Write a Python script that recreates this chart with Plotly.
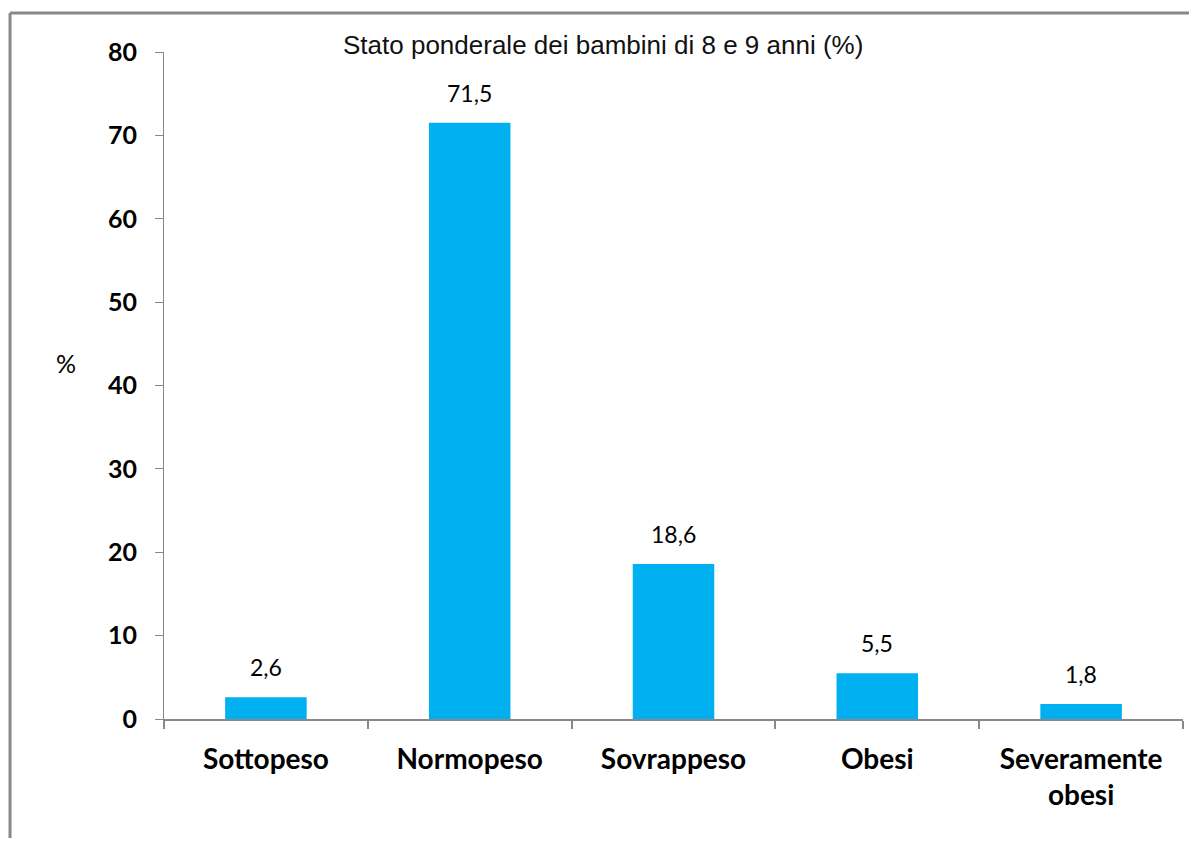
import plotly.graph_objects as go

categories = ['Sottopeso', 'Normopeso', 'Sovrappeso', 'Obesi', 'Severamente<br>obesi']
values = [2.6, 71.5, 18.6, 5.5, 1.8]
y_ticks = [0, 10, 20, 30, 40, 50, 60, 70, 80]

title_text = 'Stato ponderale dei bambini di 8 e 9 anni (%)'

fig = go.Figure()

fig.add_trace(go.Bar(
    x=categories,
    y=values,
    marker=dict(color='#00B0F0', line=dict(width=0)),
    hoverinfo='x+y',
))

# data labels with comma decimals, placed a bit above each bar
for cat, v in zip(categories, values):
    fig.add_annotation(
        x=cat, y=v,
        text=f'{v:.1f}'.replace('.', ','),
        showarrow=False,
        yanchor='middle',
        yshift=30,
        font=dict(family='Lato', size=23, color='#000000'),
    )

# chart title
fig.add_annotation(
    x=0.431, y=1.0105, xref='paper', yref='paper',
    text=title_text, showarrow=False,
    xanchor='center', yanchor='middle',
    font=dict(family='Liberation Sans', size=26, color='#111111'),
)

# "%" axis label
fig.add_annotation(
    x=-0.0962, y=0.5337, xref='paper', yref='paper',
    text='%', showarrow=False,
    xanchor='center', yanchor='middle',
    font=dict(family='Lato', size=25, color='#000000'),
)

# outer frame: only the left and top edges show in the picture
frame = dict(color='#888888', width=3)
fig.add_shape(type='line', xref='paper', yref='paper',
              x0=-0.1511, x1=-0.1511, y0=-0.5, y1=1.0585, line=frame)
fig.add_shape(type='line', xref='paper', yref='paper',
              x0=-0.1511, x1=1.5, y0=1.0585, y1=1.0585, line=frame)

# page body adds an 8px margin all round, so the figure is sized to avoid scrollbars
fig.update_layout(
    width=1181, height=830,
    margin=dict(l=156, r=6, t=44, b=119),
    paper_bgcolor='white',
    plot_bgcolor='white',
    showlegend=False,
    bargap=0.6,
    xaxis=dict(
        showgrid=False,
        showline=True, linecolor='#888888', linewidth=2,
        ticks='outside', tickson='boundaries', ticklen=8,
        tickcolor='#888888', tickwidth=2,
        tickfont=dict(family='Lato', size=28, color='#000000', weight='bold'),
        ticklabelstandoff=14,
    ),
    yaxis=dict(
        range=[0, 80],
        tickvals=y_ticks,
        showgrid=False, zeroline=False,
        showline=True, linecolor='#888888', linewidth=1,
        ticks='outside', ticklen=8, tickcolor='#888888', tickwidth=1,
        tickfont=dict(family='Lato', size=25, color='#000000', weight='bold'),
        ticklabelstandoff=13,
    ),
)

fig.write_html('out.html')
